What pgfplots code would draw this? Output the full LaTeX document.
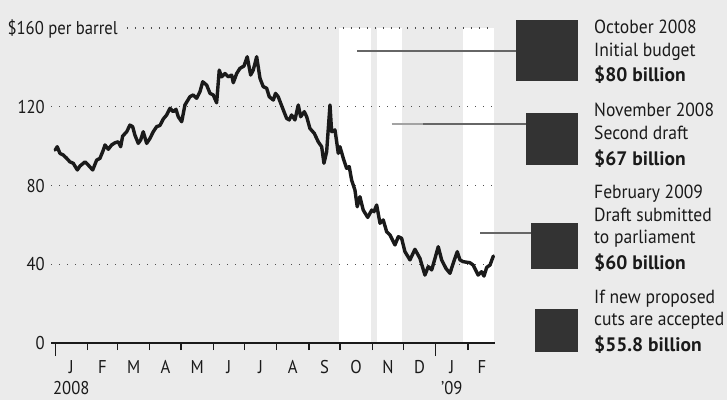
\documentclass[border=0pt]{standalone}
\usepackage{fontspec}
\setmainfont{PT Sans}[FakeStretch=0.9]
\newfontfamily\notefont{PT Sans}[FakeStretch=0.925]
\newfontfamily\amountfont{PT Sans}[FakeStretch=1.0]
\usepackage{pgfplots}
\pgfplotsset{compat=1.18}
\usepackage{pgfplotstable}

\definecolor{bg}{HTML}{EBEBEB}
\definecolor{ink}{HTML}{1A1A1A}
\definecolor{box}{HTML}{333333}
\definecolor{leader}{HTML}{666666}
\definecolor{dotgray}{HTML}{4D4D4D}

% Crude oil, dollars per barrel; day 0 = 1 Jan 2008
\pgfplotstableread{
day price
0 98.0
2.0 99.7
4.6 96.3
7.8 95.5
11.1 93.8
14.2 92.0
17.4 91.3
21.3 87.9
23.9 89.9
28.7 92.0
31.8 90.4
36.1 87.9
39.9 92.9
43.1 93.8
46.3 98.0
47.9 100.6
51.1 98.4
54.3 100.6
57.5 101.7
60.7 102.2
63.0 99.7
64.9 105.1
68.8 107.3
71.9 110.7
74.5 109.9
76.7 105.6
79.9 101.4
82.2 103.1
84.7 107.3
88.0 101.4
91.2 103.9
94.3 107.3
97.6 109.9
100.8 110.5
104.0 113.8
107.2 115.8
110.4 119.2
113.6 117.5
116.2 118.7
118.4 114.9
121.7 112.4
124.8 120.9
129.6 125.1
132.8 126.0
136.1 124.3
139.3 127.7
141.9 132.7
145.7 131.0
148.9 126.8
152.0 126.0
155.3 122.0
157.8 138.6
160.1 135.2
163.3 136.9
166.5 135.2
169.7 136.1
171.3 132.2
174.6 136.9
177.7 139.5
181.6 140.7
184.7 145.4
188.0 136.1
190.5 138.6
193.8 145.4
197.0 134.4
200.1 130.2
203.4 129.4
205.9 125.1
209.8 123.4
211.9 126.8
214.5 125.1
218.2 120.0
222.6 114.1
225.1 113.3
227.4 115.8
230.6 113.3
233.8 120.9
236.1 114.9
239.6 117.5
241.9 114.9
245.0 109.0
249.2 106.5
253.0 102.2
256.3 99.7
258.5 91.3
261.1 97.2
264.3 120.9
265.9 107.3
269.1 108.2
272.3 96.3
273.9 99.7
277.1 93.8
280.3 88.7
282.8 89.6
285.1 82.8
288.3 77.7
290.5 69.2
293.1 74.3
296.3 67.5
300.6 63.8
304.4 67.5
306.6 66.7
309.2 70.1
312.4 60.8
315.5 62.5
318.8 56.5
322.0 54.9
326.8 49.8
330.0 54.0
333.2 53.2
336.4 46.4
341.2 42.2
346.0 47.6
350.8 43.0
355.6 34.5
358.8 38.8
362.1 37.1
365.3 43.0
368.4 48.9
371.7 42.2
375.8 37.9
379.7 35.4
382.8 40.5
386.7 46.4
389.3 42.2
392.4 41.3
398.8 40.8
402.0 39.6
406.8 34.5
410.1 36.2
412.4 34.0
415.0 38.4
418.2 39.6
421.4 44.2
}\oilprice

\newcommand\lab{\fontsize{18.5}{22}\selectfont}
\newcommand\note{\notefont\fontsize{19}{22}\selectfont}
\newcommand\amount{\amountfont\bfseries\fontsize{19.5}{22}\selectfont}

\begin{document}
\begin{tikzpicture}[x=1pt,y=1pt]
\useasboundingbox (0,0) rectangle (727,400);
\fill[bg] (0,0) rectangle (727,400);

\begin{axis}[
  at={(51pt,57pt)}, anchor=south west,
  scale only axis, width=444pt, height=315pt,
  xmin=-4, xmax=423, ymin=0, ymax=160,
  axis x line=bottom, axis y line=none,
  x axis line style={-, line width=2pt, ink},
  xtick={31,60,91,121,152,182,213,244,274,305,335,397},
  xticklabels={},
  extra x ticks={0,366}, extra x tick labels={},
  extra x tick style={major tick length=13pt},
  tick align=outside, major tick length=7pt,
  tick style={ink, line width=1.3pt},
  ytick=\empty,
  axis on top, clip=false,
]
  % budget periods
  \fill[white] (axis cs:273,0) rectangle (axis cs:303.8,160);
  \fill[white] (axis cs:309.5,0) rectangle (axis cs:333.6,160);
  \fill[white] (axis cs:392.5,0) rectangle (axis cs:422.3,160);
  % dotted gridlines
  \draw[dotgray, line width=1.3pt, dash pattern=on 1.3pt off 6.7pt] (axis cs:-4,40) -- (axis cs:421,40);
  \draw[dotgray, line width=1.3pt, dash pattern=on 1.3pt off 6.7pt] (axis cs:-4,80) -- (axis cs:421,80);
  \draw[dotgray, line width=1.3pt, dash pattern=on 1.3pt off 6.7pt] (axis cs:-4,120) -- (axis cs:421,120);
  \draw[dotgray, line width=1.3pt, dash pattern=on 1.3pt off 6.7pt] (axis cs:69,160) -- (axis cs:421,160);
  \addplot[ink, line width=3.4pt, line join=round, line cap=round, no marks] table[x=day, y=price] {\oilprice};
\end{axis}

% value labels
\begin{scope}[every node/.style={ink, inner sep=0pt}]
  \node[anchor=base east] at (45,50.5) {\lab 0};
  \node[anchor=base east] at (45,129.3) {\lab 40};
  \node[anchor=base east] at (45,208) {\lab 80};
  \node[anchor=base east] at (45,286.8) {\lab 120};
  \node[anchor=base east] at (118,365.5) {\lab \$160 per barrel};
  % months
  \foreach \d/\m in {15.5/J,45.5/F,75.5/M,106/A,136.5/M,167/J,197.5/J,228.5/A,259/S,289.5/O,320/N,350.5/D,381.5/J,410.5/F}
    \node[anchor=base] at ({51+(\d+4)*1.03981},27) {\lab \m};
  \node[anchor=base] at ({51+(15.5+4)*1.03981},6) {\lab 2008};
  \node[anchor=base] at ({51+(381.5+4)*1.03981},6) {\lab ’09};
\end{scope}

% leader lines
\draw[leader, line width=1.6pt] (357,349) -- (516,349);
\draw[leader!60, line width=1.6pt] (391.7,276) -- (423,276);
\draw[leader, line width=1.6pt] (423,276) -- (526,276);
\draw[leader, line width=1.6pt] (480,167.3) -- (531,167.3);

% budget squares
\fill[box] (516,319) rectangle (578,380);
\fill[box] (526,235) rectangle (578,287);
\fill[box] (531,130.7) rectangle (578,177.3);
\fill[box] (535,48.3) rectangle (578,91);

\begin{scope}[every node/.style={ink, inner sep=0pt, anchor=base west}]
  \node at (594,366.7) {\note October 2008};
  \node at (594,344) {\note Initial budget};
  \node at (594,318.5) {\amount \$80 billion};
  \node at (594,283.2) {\note November 2008};
  \node at (594,260.5) {\note Second draft};
  \node at (594,235) {\amount \$67 billion};
  \node at (594,201.7) {\note February 2009};
  \node at (594,179) {\note Draft submitted};
  \node at (594,156.5) {\note to parliament};
  \node at (594,131) {\amount \$60 billion};
  \node at (594,97) {\note If new proposed};
  \node at (594,74.5) {\note cuts are accepted};
  \node at (594,49) {\amount \$55.8 billion};
\end{scope}
\end{tikzpicture}
\end{document}
